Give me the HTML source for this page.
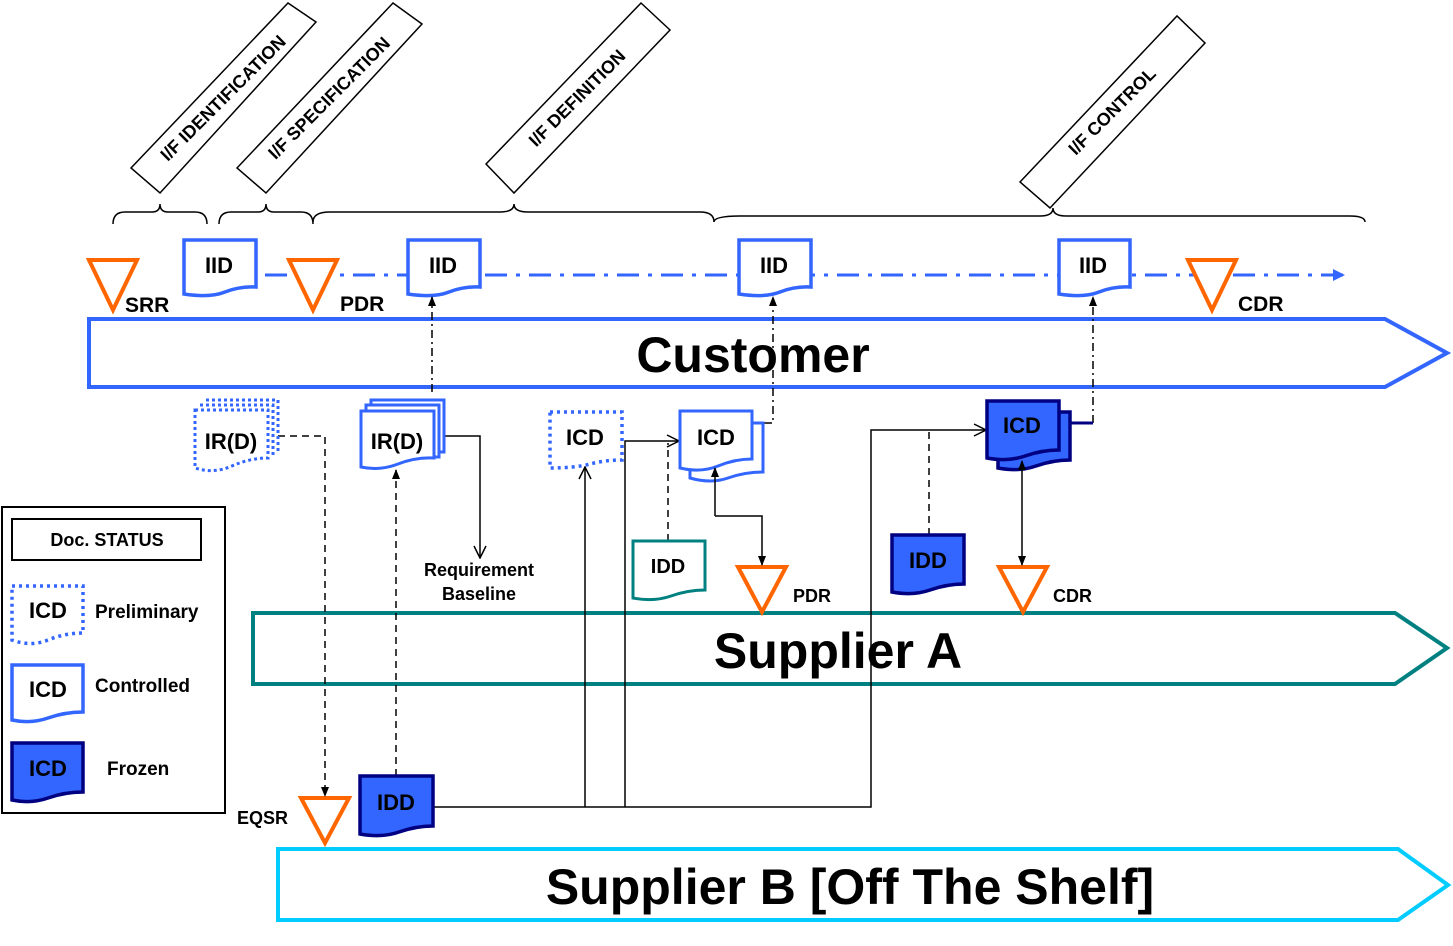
<!DOCTYPE html>
<html><head><meta charset="utf-8"><style>
html,body{margin:0;padding:0;background:#fff}
svg{display:block}
text{font-family:"Liberation Sans",Arial,sans-serif;font-weight:bold;fill:#000}
</style></head><body>
<svg width="1453" height="946" viewBox="0 0 1453 946" xmlns="http://www.w3.org/2000/svg">
<defs>
<marker id="ah" markerWidth="10" markerHeight="10" refX="9" refY="5" orient="auto" markerUnits="userSpaceOnUse"><path d="M0,1 L10,5 L0,9 Z" fill="#000"/></marker>
<marker id="ao" markerWidth="14" markerHeight="14" refX="13" refY="7" orient="auto" markerUnits="userSpaceOnUse"><path d="M1,1 L13,7 L1,13" fill="none" stroke="#000" stroke-width="1.5"/></marker>
<marker id="ab" markerWidth="12" markerHeight="12" refX="10" refY="6" orient="auto" markerUnits="userSpaceOnUse"><path d="M0,0 L12,6 L0,12 Z" fill="#3366ff"/></marker>
</defs>

<g fill="#fff" stroke="#000" stroke-width="1.5">
<polygon points="131,168 288,3 316,22 160,193"/>
<polygon points="237,168 393,3 422,24 266,193"/>
<polygon points="486,164 641,3 670,30 514,193"/>
<polygon points="1020,182 1177,16 1205,43 1050,208"/>
</g>
<g font-size="18">
<text transform="translate(224,99) rotate(-45)" text-anchor="middle" dominant-baseline="middle">I/F IDENTIFICATION</text>
<text transform="translate(330,99) rotate(-45)" text-anchor="middle" dominant-baseline="middle">I/F SPECIFICATION</text>
<text transform="translate(578,99) rotate(-45)" text-anchor="middle" dominant-baseline="middle">I/F DEFINITION</text>
<text transform="translate(1113,112) rotate(-45)" text-anchor="middle" dominant-baseline="middle">I/F CONTROL</text>
</g>

<g fill="none" stroke="#000" stroke-width="1.5">
<path d="M113,224 Q113,212 125,212 L152,212 Q160,212 160,204 Q160,212 168,212 L195,212 Q207,212 207,224"/>
<path d="M219,224 Q219,212 231,212 L258,212 Q266,212 266,204 Q266,212 274,212 L301,212 Q313,212 313,224"/>
<path d="M313,222 Q313,212 330,212 L500,212 Q514,212 514,204 Q514,212 528,212 L700,212 Q714,212 714,222"/>
<path d="M714,222 Q714,216 740,216 L1040,216 Q1053,216 1053,208 Q1053,216 1066,216 L1350,216 Q1365,216 1365,222"/>
</g>

<line x1="265" y1="275" x2="1343" y2="275" stroke="#3366ff" stroke-width="3" stroke-dasharray="22,9,4,9" marker-end="url(#ab)"/>

<polygon points="89,319 1385,319 1447,353 1385,387 89,387" fill="#fff" stroke="#3366ff" stroke-width="4"/>
<text x="753" y="372" font-size="50" text-anchor="middle">Customer</text>

<polygon points="253,613 1395,613 1447,648 1395,684 253,684" fill="none" stroke="#008080" stroke-width="4"/>
<text x="838" y="668" font-size="50" text-anchor="middle">Supplier A</text>

<polygon points="278,849 1398,849 1448,885 1398,920 278,920" fill="#fff" stroke="#00ccff" stroke-width="4"/>
<text x="850" y="904" font-size="50" text-anchor="middle">Supplier B [Off The Shelf]</text>

<g fill="#fff" stroke="#ff6600" stroke-width="4" stroke-linejoin="miter">
<polygon points="89,260 137,260 113,310"/>
<polygon points="289,260 337,260 313,310"/>
<polygon points="1188,260 1236,260 1212,310"/>
<polygon points="738,567 786,567 762,612"/>
<polygon points="999,567 1047,567 1023,612"/>
<polygon points="301,798 349,798 325,843"/>
</g>
<g font-size="21">
<text x="125" y="312">SRR</text>
<text x="340" y="311">PDR</text>
<text x="1238" y="311">CDR</text>
</g>
<g font-size="18">
<text x="793" y="602">PDR</text>
<text x="1053" y="602">CDR</text>
<text x="237" y="824">EQSR</text>
<text x="479" y="576" text-anchor="middle">Requirement</text>
<text x="479" y="600" text-anchor="middle">Baseline</text>
</g>

<g fill="#fff" stroke="#3366ff" stroke-width="3.5">
<path d="M184,240 H256 V287 Q240,286 225,292 T184,294 Z"/>
<path d="M408,240 H480 V287 Q464,286 449,292 T408,294 Z"/>
<path d="M739,240 H811 V287 Q795,286 780,292 T739,294 Z"/>
<path d="M1059,240 H1130 V287 Q1114,286 1099,292 T1059,294 Z"/>
</g>
<g font-size="22" text-anchor="middle">
<text x="219" y="273">IID</text>
<text x="443" y="273">IID</text>
<text x="774" y="273">IID</text>
<text x="1093" y="273">IID</text>
</g>

<g fill="none" stroke="#000" stroke-width="1.5">
<path d="M278,436 H325 V796" stroke-dasharray="7,5" marker-end="url(#ah)"/>
<path d="M396,776 V470" stroke-dasharray="7,5" marker-end="url(#ah)"/>
<path d="M432,392 V297" stroke-dasharray="8,4,2,4" marker-end="url(#ah)"/>
<path d="M445,436 H480 V558" marker-end="url(#ao)"/>
<path d="M433,807 H871 V430 H986" marker-end="url(#ao)"/>
<path d="M585,807 V467" marker-end="url(#ao)"/>
<path d="M625,807 V441 H679" marker-end="url(#ao)"/>
<path d="M668,541 V443" stroke-dasharray="7,5"/>
<path d="M764,423 H773 V297" stroke-dasharray="8,4,2,4" marker-end="url(#ah)"/>
<path d="M929,535 V431" stroke-dasharray="7,5"/>
<path d="M1093,423 V297" stroke-dasharray="8,4,2,4" marker-end="url(#ah)"/>
</g>
<line x1="1065" y1="423" x2="1093" y2="423" stroke="#000080" stroke-width="3"/>

<g fill="none" stroke="#3366ff" stroke-width="3" stroke-dasharray="3,3">
<path d="M206,400 H278 V452"/>
<path d="M200,405 H273 V457"/>
<path d="M195,410 H268 V458 Q250,458 232,466 T195,468 Z" fill="#fff"/>
</g>
<text x="231" y="449" font-size="22" text-anchor="middle">IR(D)</text>

<g fill="#fff" stroke="#3366ff" stroke-width="3">
<path d="M371,400 H444 V452 H371 Z"/>
<path d="M366,405 H439 V457 H366 Z"/>
<path d="M361,411 H434 V458 Q416,457 398,464 T361,467 Z"/>
</g>
<text x="397" y="449" font-size="22" text-anchor="middle">IR(D)</text>

<path d="M550,412 H622 V460 Q605,460 590,464 T550,468 Z" fill="#fff" stroke="#3366ff" stroke-width="3.5" stroke-dasharray="3,4"/>
<text x="585" y="445" font-size="22" text-anchor="middle">ICD</text>

<g fill="#fff" stroke="#3366ff" stroke-width="3">
<path d="M690,423 H763 V472 Q745,472 728,478 T690,478 Z"/>
<path d="M680,411 H752 V459 Q735,459 718,466 T680,468 Z"/>
</g>
<text x="716" y="445" font-size="22" text-anchor="middle">ICD</text>

<path d="M633,541 H705 V590 Q688,590 671,596 T633,598 Z" fill="#fff" stroke="#008080" stroke-width="3"/>
<text x="668" y="573" font-size="20" text-anchor="middle">IDD</text>

<path d="M892,535 H964 V584 Q947,584 930,590 T892,592 Z" fill="#3366ff" stroke="#000080" stroke-width="3.5"/>
<text x="928" y="568" font-size="22" text-anchor="middle">IDD</text>

<g fill="#3366ff" stroke="#000080" stroke-width="3.5">
<path d="M998,412 H1070 V460 Q1053,460 1036,466 T998,468 Z"/>
<path d="M987,401 H1059 V450 Q1042,450 1025,456 T987,458 Z"/>
</g>
<text x="1022" y="433" font-size="22" text-anchor="middle">ICD</text>

<path d="M360,776 H433 V826 Q416,826 399,832 T360,834 Z" fill="#3366ff" stroke="#000080" stroke-width="3.5"/>
<text x="396" y="810" font-size="22" text-anchor="middle">IDD</text>

<!-- arrows drawn over docs -->
<g fill="none" stroke="#000" stroke-width="1.5">
<path d="M715,516 V468" marker-end="url(#ah)"/>
<path d="M715,516 H762 V565" marker-end="url(#ah)"/>
<path d="M1022,510 V461" marker-end="url(#ah)"/>
<path d="M1022,510 V565" marker-end="url(#ah)"/>
</g>

<rect x="2" y="507" width="223" height="306" fill="#fff" stroke="#000" stroke-width="2"/>
<rect x="12" y="519" width="189" height="41" fill="#fff" stroke="#000" stroke-width="2"/>
<text x="107" y="546" font-size="18" text-anchor="middle">Doc. STATUS</text>
<path d="M12,586 H83 V633 Q65,633 48,640 T12,640 Z" fill="#fff" stroke="#3366ff" stroke-width="3.5" stroke-dasharray="3,4"/>
<text x="48" y="618" font-size="22" text-anchor="middle">ICD</text>
<text x="95" y="618" font-size="19">Preliminary</text>
<path d="M12,665 H83 V712 Q65,712 48,718 T12,720 Z" fill="#fff" stroke="#3366ff" stroke-width="3.5"/>
<text x="48" y="697" font-size="22" text-anchor="middle">ICD</text>
<text x="95" y="692" font-size="19">Controlled</text>
<path d="M12,743 H83 V792 Q65,792 48,798 T12,800 Z" fill="#3366ff" stroke="#000080" stroke-width="3.5"/>
<text x="48" y="776" font-size="22" text-anchor="middle">ICD</text>
<text x="107" y="775" font-size="19">Frozen</text>
</svg>
</body></html>
